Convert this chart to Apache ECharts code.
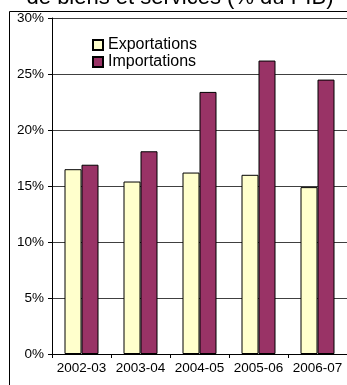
<!DOCTYPE html>
<html>
<head>
<meta charset="utf-8">
<script src="https://cdn.jsdelivr.net/npm/echarts@6/dist/echarts.min.js"></script>
<style>
  html, body { margin: 0; padding: 0; background: #fff; }
  #chart { width: 347px; height: 385px; }
</style>
</head>
<body>
<div id="chart"></div>
<script>
// Exports and imports of goods and services, share of GDP
var years = ['2002-03', '2003-04', '2004-05', '2005-06', '2006-07'];
var exportations = [16.5, 15.4, 16.2, 16.0, 14.9];
var importations = [16.9, 18.1, 23.4, 26.2, 24.5];
var yTicks = [0, 5, 10, 15, 20, 25, 30];

var chart = echarts.init(document.getElementById('chart'));
var font = 'Liberation Sans, Arial, sans-serif';

chart.setOption({
  animation: false,
  backgroundColor: '#ffffff',
  textStyle: { fontFamily: font },
  grid: { left: 52, top: 18, width: 299, height: 336, containLabel: false },
  graphic: [
    {
      type: 'rect',
      shape: { x: 9.5, y: 11.5, width: 400, height: 400 },
      style: { fill: 'none', stroke: '#000', lineWidth: 1 },
      z: 0, silent: true
    },
    {
      type: 'text',
      x: 180, y: 9,
      style: {
        text: 'de biens et services (% du PIB)',
        fontSize: 22, fontFamily: font, fill: '#000',
        align: 'center', verticalAlign: 'bottom'
      },
      silent: true
    }
  ],
  legend: {
    orient: 'vertical',
    left: 87, top: 32,
    itemWidth: 10, itemHeight: 10, itemGap: 1,
    icon: 'rect',
    textStyle: { fontSize: 16, color: '#000', fontFamily: font },
    data: ['Exportations', 'Importations']
  },
  xAxis: {
    type: 'category',
    data: years,
    axisLine: { lineStyle: { color: '#000', width: 1 } },
    axisTick: { show: true, length: 4, lineStyle: { color: '#000' } },
    axisLabel: { color: '#000', fontSize: 13.5, margin: 7, interval: 0 },
    splitLine: { show: false }
  },
  yAxis: {
    type: 'value',
    min: yTicks[0], max: yTicks[yTicks.length - 1], interval: 5,
    axisLine: { show: true, lineStyle: { color: '#000', width: 1 } },
    axisTick: { show: true, length: 4, lineStyle: { color: '#000' } },
    axisLabel: { color: '#000', fontSize: 13.5, margin: 8, formatter: '{value}%' },
    splitLine: { show: true, lineStyle: { color: '#404040', width: 1 } }
  },
  series: [
    {
      name: 'Exportations', type: 'bar', data: exportations,
      barWidth: 17, barGap: '0%',
      itemStyle: { color: '#ffffcc', borderColor: '#000', borderWidth: 1 }
    },
    {
      name: 'Importations', type: 'bar', data: importations,
      barWidth: 17,
      itemStyle: { color: '#993366', borderColor: '#000', borderWidth: 1 }
    }
  ]
});
</script>
</body>
</html>
